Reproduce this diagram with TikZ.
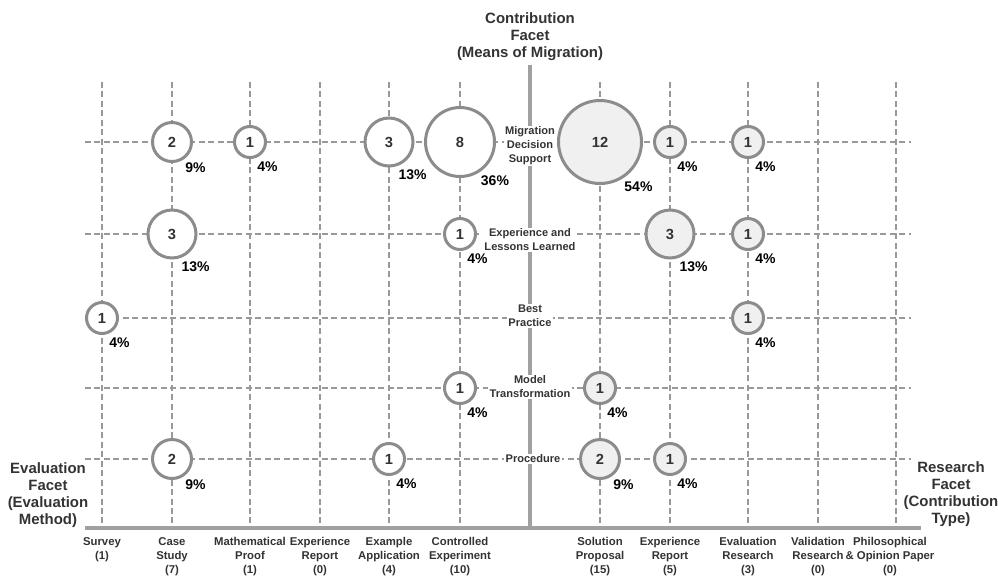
\documentclass[tikz,border=0pt]{standalone}
\usepackage{fontspec}
\setmainfont{Liberation Sans}
\usepackage{tikz}

\definecolor{gridgray}{HTML}{999999}
\definecolor{axisgray}{HTML}{A0A0A0}
\definecolor{bubline}{HTML}{8C8C8C}
\definecolor{bubfill}{HTML}{F0F0F0}
\definecolor{txtgray}{HTML}{333333}

\begin{document}
\begin{tikzpicture}[x=0.75pt,y=-0.75pt,
  grid/.style={gridgray,line width=1.3pt,dash pattern=on 4.5pt off 2.6pt},
  axis/.style={axisgray,line width=3pt},
  bub/.style={circle,draw=bubline,line width=2.25pt,inner sep=0pt,text=txtgray,font=\fontsize{11}{12}\selectfont\bfseries},
  lbub/.style={bub,fill=white},
  rbub/.style={bub,fill=bubfill},
  sz1/.style={minimum size=23.25pt},
  sz2/.style={minimum size=29.25pt},
  sz3/.style={minimum size=36pt},
  sz8/.style={minimum size=51.75pt},
  sz12/.style={minimum size=62.25pt},
  pct/.style={anchor=north west,inner sep=2pt,font=\fontsize{10.5}{12}\selectfont\bfseries},
  rowlabel/.style={fill=white,inner sep=1pt,align=center,text=txtgray,font=\fontsize{8.3}{10.5}\selectfont\bfseries},
  collabel/.style={anchor=north,inner sep=0pt,align=center,text=txtgray,font=\fontsize{8.5}{10.5}\selectfont\bfseries},
  facet/.style={align=center,inner sep=0pt,text=txtgray,font=\fontsize{11.2}{12.75}\selectfont\bfseries}]

  \useasboundingbox (0,0) rectangle (998,575);

  % dashed grid
  \foreach \x in {102,172,250,320,389,460,600,670,748,818,896}
    \draw[grid] (\x,82) -- (\x,528);
  \foreach \y in {142,234,318,388,459}
    \draw[grid] (85,\y) -- (911,\y);

  % axes
  \draw[axis] (530,65) -- (530,528);
  \draw[axis] (85,528) -- (921,528);

  % facet titles
  \node[facet] (contrib) at (530,37) {Contribution\\Facet\\(Means of Migration)};
  \node[facet] (evalfacet) at (48,495) {Evaluation\\Facet\\(Evaluation\\Method)};
  \node[facet] (resfacet) at (951,494) {Research\\Facet\\(Contribution\\Type)};

  % contribution types
  \node[rowlabel] (mds) at (530,146) {Migration\\Decision\\Support};
  \node[rowlabel] (ell) at (530,240) {Experience and\\Lessons Learned};
  \node[rowlabel] (bp) at (530,316) {Best\\Practice};
  \node[rowlabel] (mt) at (530,387) {Model\\Transformation};
  \node[rowlabel] (proc) at (533,459) {Procedure};

  % evaluation methods
  \node[collabel] (survey) at (102,537) {Survey\\(1)};
  \node[collabel] (casestudy) at (172,537) {Case\\Study\\(7)};
  \node[collabel] (proof) at (250,537) {Mathematical\\Proof\\(1)};
  \node[collabel] (expreport) at (320,537) {Experience\\Report\\(0)};
  \node[collabel] (exapp) at (389,537) {Example\\Application\\(4)};
  \node[collabel] (ctrlexp) at (460,537) {Controlled\\Experiment\\(10)};

  % research types
  \node[collabel] (solprop) at (600,537) {Solution\\Proposal\\(15)};
  \node[collabel] (expreport2) at (670,537) {Experience\\Report\\(5)};
  \node[collabel] (evalres) at (748,537) {Evaluation\\Research\\(3)};
  \node[collabel] (valres) at (818,537) {Validation\\Research\\(0)};
  \node[collabel] (philo) at (890,537) {Philosophical\\\& Opinion Paper\\(0)};

  % left side bubbles
  \node[lbub,sz2] (b1) at (172,142) {2};   \node[pct] (p1) at (b1.-60) {9\%};
  \node[lbub,sz1] (b2) at (250,142) {1};   \node[pct] (p2) at (b2.-75) {4\%};
  \node[lbub,sz3] (b3) at (389,142) {3};   \node[pct] (p3) at (b3.-75) {13\%};
  \node[lbub,sz8] (b4) at (460,142) {8};   \node[pct] (p4) at (b4.-60) {36\%};
  \node[lbub,sz3] (b5) at (172,234) {3};   \node[pct] (p5) at (b5.-75) {13\%};
  \node[lbub,sz1] (b6) at (460,234) {1};   \node[pct] (p6) at (b6.-75) {4\%};
  \node[lbub,sz1] (b7) at (102,318) {1};   \node[pct] (p7) at (b7.-75) {4\%};
  \node[lbub,sz1] (b8) at (460,388) {1};   \node[pct] (p8) at (b8.-75) {4\%};
  \node[lbub,sz2] (b9) at (172,459) {2};   \node[pct] (p9) at (b9.-60) {9\%};
  \node[lbub,sz1] (b10) at (389,459) {1};  \node[pct] (p10) at (b10.-75) {4\%};

  % right side bubbles
  \node[rbub,sz12] (b11) at (600,142) {12}; \node[pct] (p11) at (b11.-60) {54\%};
  \node[rbub,sz1] (b12) at (670,142) {1};   \node[pct] (p12) at (b12.-75) {4\%};
  \node[rbub,sz1] (b13) at (748,142) {1};   \node[pct] (p13) at (b13.-75) {4\%};
  \node[rbub,sz3] (b14) at (670,234) {3};   \node[pct] (p14) at (b14.-75) {13\%};
  \node[rbub,sz1] (b15) at (748,234) {1};   \node[pct] (p15) at (b15.-75) {4\%};
  \node[rbub,sz1] (b16) at (748,318) {1};   \node[pct] (p16) at (b16.-75) {4\%};
  \node[rbub,sz1] (b17) at (600,388) {1};   \node[pct] (p17) at (b17.-75) {4\%};
  \node[rbub,sz2] (b18) at (600,459) {2};   \node[pct] (p18) at (b18.-60) {9\%};
  \node[rbub,sz1] (b19) at (670,459) {1};   \node[pct] (p19) at (b19.-75) {4\%};
\end{tikzpicture}
\end{document}
